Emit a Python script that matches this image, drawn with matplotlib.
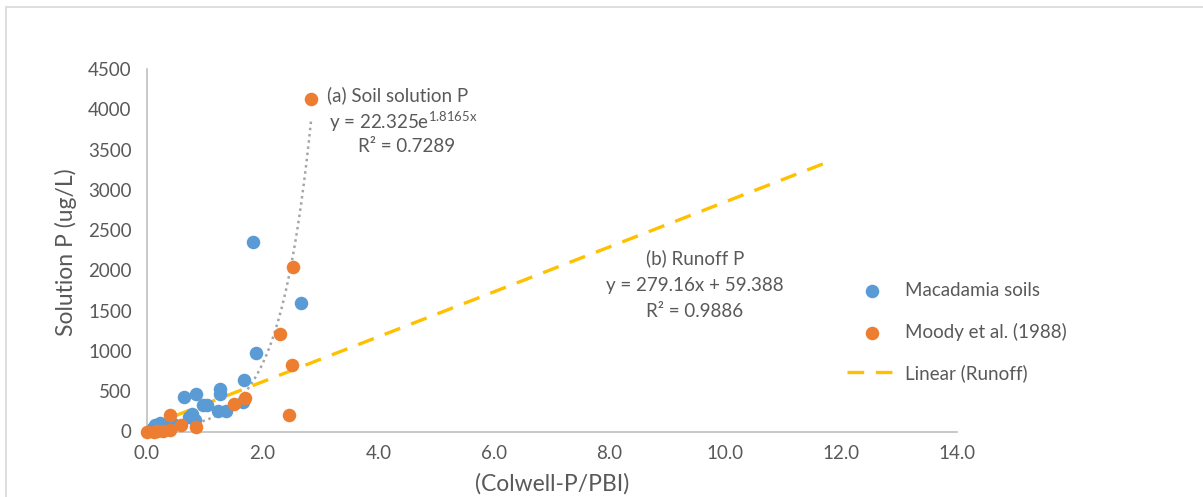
import numpy as np
import matplotlib.pyplot as plt
from matplotlib.patches import Rectangle

plt.rcParams['font.family'] = ['Lato', 'DejaVu Sans']

# Macadamia soils
mac_x = [1.84, 2.66, 1.88, 1.68, 1.26, 1.26, 0.85, 0.64, 1.04, 0.96, 0.77, 0.73,
         0.83, 1.23, 1.36, 1.66, 0.22, 0.14, 0.45, 0.34, 0.28, 0.10]
mac_y = [2350, 1600, 973, 634, 531, 469, 469, 427, 323, 323, 220, 178,
         137, 252, 252, 364, 103, 75, 87, 54, 60, 40]

# Moody et al. (1988)
moody_x = [2.84, 2.53, 2.30, 2.50, 2.45, 1.70, 1.50, 0.40, 0.58, 0.85,
           0.0, 0.17, 0.28, 0.39, 0.12]
moody_y = [4127, 2043, 1206, 825, 211, 419, 336, 199, 75, 54,
           -10, 5, 10, 15, 0]

# trendline coefficients
exp_a, exp_b = 22.325, 1.8165
lin_m, lin_c = 279.16, 59.388
exp_range = [0.0, 2.84]
lin_range = [0.0, 11.8]

blue = '#5B9BD5'
orange = '#ED7D31'
txt = '#595959'

fig = plt.figure(figsize=(12.03, 4.97), dpi=100)
fig.patches.append(Rectangle((6 / 1203, -0.1), 1.2, 1 - 7 / 497 + 0.1,
                             transform=fig.transFigure, fill=False,
                             edgecolor='#D9D9D9', lw=1.2))

ax = fig.add_axes([147 / 1203, 1 - 431.5 / 497, (956.7 - 147) / 1203, (431.5 - 69) / 497])

xe = np.linspace(exp_range[0], exp_range[1], 200)
ax.plot(xe, exp_a * np.exp(exp_b * xe), linestyle=(0, (1, 1.5)), color='#A5A5A5',
        lw=1.8, zorder=2, clip_on=False)
xl = np.array(lin_range)
ax.plot(xl, lin_m * xl + lin_c, linestyle=(0, (5, 3.5)), color='#FFC000', lw=2.4,
        zorder=3, clip_on=False)

ax.scatter(mac_x, mac_y, s=95, color=blue, zorder=4, linewidths=0, clip_on=False)
ax.scatter(moody_x, moody_y, s=95, color=orange, zorder=5, linewidths=0, clip_on=False)

ax.set_xlim(0, 14)
ax.set_ylim(0, 4500)
ax.set_xticks(np.arange(0, 14.1, 2))
ax.set_xticklabels([f'{v:.1f}' for v in np.arange(0, 14.1, 2)])
ax.set_yticks(np.arange(0, 4501, 500))
ax.tick_params(length=0, labelsize=13.5, colors=txt, pad=10)
ax.tick_params(axis='y', pad=11)
for s in ['top', 'right']:
    ax.spines[s].set_visible(False)
for s in ['left', 'bottom']:
    ax.spines[s].set_color('#BFBFBF')
    ax.spines[s].set_linewidth(1.2)

# y label placed in figure pixels (centre near x=66)
fig.text(66 / 1203, 1 - 252 / 497, 'Solution P (ug/L)', fontsize=16.5, color=txt,
         rotation=90, ha='center', va='center')
ax.set_xlabel('(Colwell-P/PBI)', fontsize=16.5, color=txt, labelpad=8)

# equation labels
ax.text(3.12, 4180, '(a) Soil solution P', fontsize=13.5, color=txt, ha='left', va='center')
ax.text(3.15, 3850, r'y = 22.325e$^{\mathregular{1.8165x}}$', fontsize=13.5, color=txt, ha='left', va='center')
ax.text(3.65, 3540, 'R² = 0.7289', fontsize=13.5, color=txt, ha='left', va='center')
ax.text(9.47, 2153, '(b) Runoff P', fontsize=13.5, color=txt, ha='center', va='center')
ax.text(9.47, 1818, 'y = 279.16x + 59.388', fontsize=13.5, color=txt, ha='center', va='center')
ax.text(9.47, 1484, 'R² = 0.9886', fontsize=13.5, color=txt, ha='center', va='center')

# legend
h1 = ax.scatter([], [], s=95, color=blue, linewidths=0)
h2 = ax.scatter([], [], s=95, color=orange, linewidths=0)
h3, = ax.plot([], [], linestyle=(0, (5, 3.5)), color='#FFC000', lw=2.4)
leg = fig.legend([h1, h2, h3], ['Macadamia soils', 'Moody et al. (1988)', 'Linear (Runoff)'],
                 loc='center left', bbox_to_anchor=(830 / 1203, 1 - 332 / 497),
                 frameon=False, fontsize=13.5, labelspacing=1.25, handlelength=2.7,
                 handletextpad=0.4)
for t in leg.get_texts():
    t.set_color(txt)

fig.savefig('out.png', dpi=100)
